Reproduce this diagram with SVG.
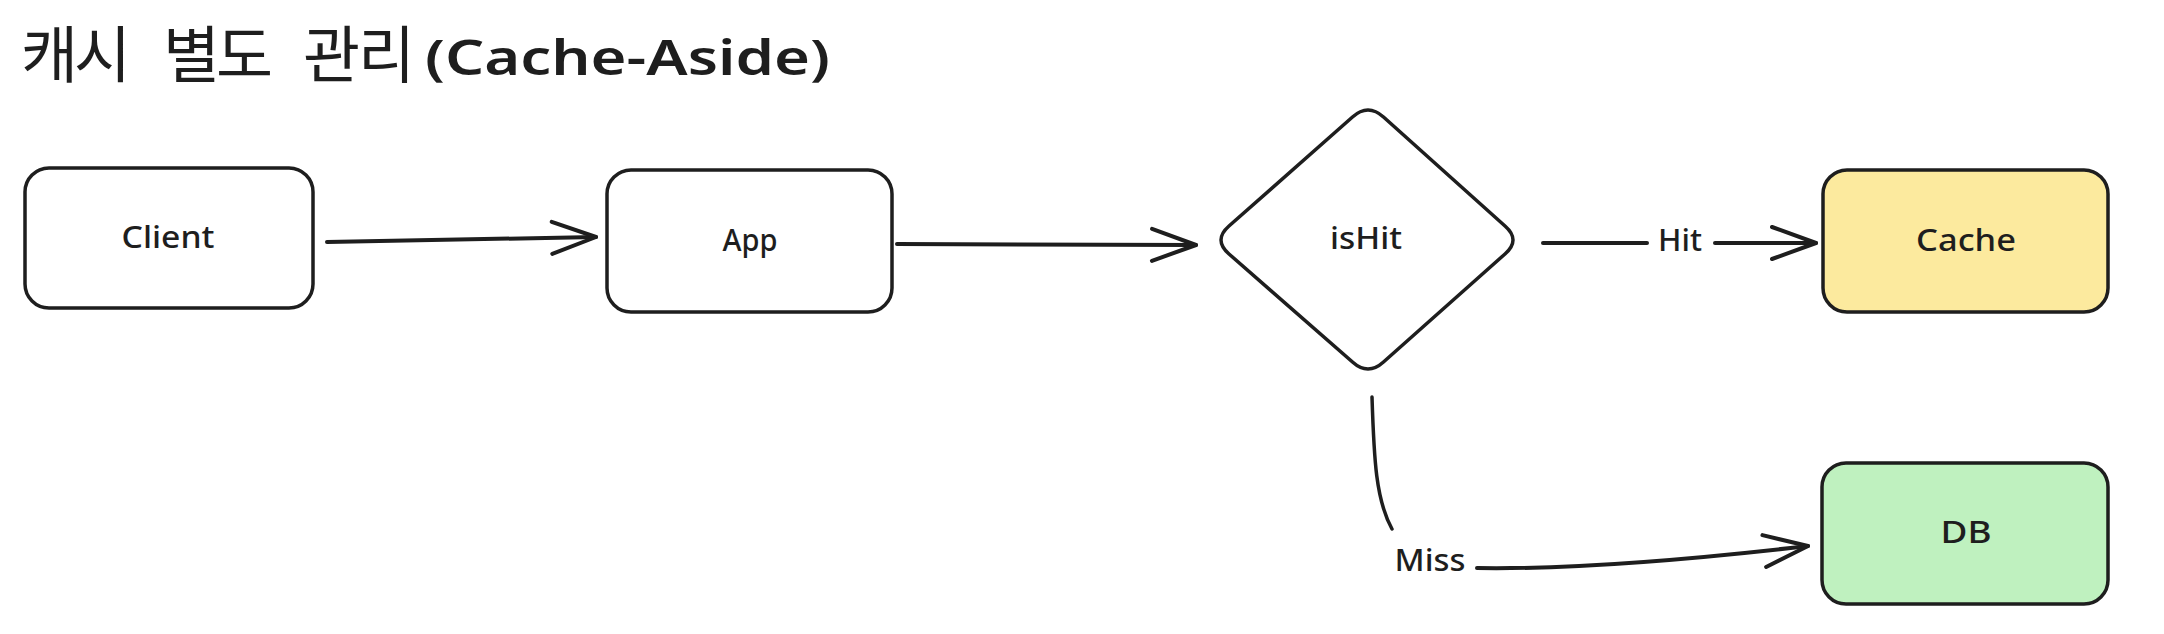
<svg xmlns="http://www.w3.org/2000/svg" width="2164" height="634" viewBox="0 0 2164 634">
<style>
.box{stroke:#1e1e1e;stroke-width:3.5;fill:#ffffff}
.lbl{font-family:"Noto Sans","Liberation Sans",sans-serif;font-size:30px;font-weight:500;fill:#1e1e1e;text-anchor:middle}
.edge{fill:none;stroke:#1e1e1e;stroke-width:4;stroke-linecap:round}
.thin{fill:none;stroke:#1e1e1e;stroke-width:3.5;stroke-linecap:round}
</style>
<defs>
<marker id="arr" markerUnits="userSpaceOnUse" markerWidth="60" markerHeight="50" refX="0" refY="0" viewBox="-50 -25 60 50" orient="auto" overflow="visible">
<path d="M-44,-16 L0,0 L-44,16" fill="none" stroke="#1e1e1e" stroke-width="4" stroke-linecap="round" stroke-linejoin="round"/>
</marker>
</defs>
<rect width="2164" height="634" fill="#ffffff"/>
<g id="title">
<text y="78" fill="#1e1e1e" style="font-family:'Noto Sans CJK KR','Noto Sans',sans-serif;font-size:62px;font-weight:400"><tspan x="21 74 127 163 216 269 303 358">캐시 별도 관리</tspan><tspan x="425" y="75" style="font-family:'Noto Sans','Liberation Sans',sans-serif;font-size:48px;font-weight:600" textLength="405" lengthAdjust="spacingAndGlyphs">(Cache-Aside)</tspan></text>
</g>
<g id="client">
<rect class="box" x="25" y="168" width="288" height="140" rx="24"/>
<text class="lbl" x="168" y="248" textLength="93" lengthAdjust="spacingAndGlyphs">Client</text>
</g>
<g id="app">
<rect class="box" x="607" y="170" width="285" height="142" rx="24"/>
<text class="lbl" x="750" y="251" textLength="55" lengthAdjust="spacingAndGlyphs">App</text>
</g>
<g id="isHit">
<path class="box" d="M1229,226 L1352.5,117 Q1368,103 1383.5,117 L1505,226 Q1521,240 1505,254 L1383.5,362 Q1368,376 1352.5,362 L1229,254 Q1213,240 1229,226 Z"/>
<text class="lbl" x="1366" y="249" textLength="72" lengthAdjust="spacingAndGlyphs">isHit</text>
</g>
<g id="cache">
<rect class="box" x="1823" y="170" width="285" height="142" rx="24" style="fill:#fcea9e"/>
<text class="lbl" x="1966" y="251" textLength="100" lengthAdjust="spacingAndGlyphs">Cache</text>
</g>
<g id="db">
<rect class="box" x="1822" y="463" width="286" height="141" rx="24" style="fill:#bff1bf"/>
<text class="lbl" x="1966" y="543" textLength="51" lengthAdjust="spacingAndGlyphs">DB</text>
</g>
<g id="connectors">
<path class="edge" d="M327,242 L596,237" marker-end="url(#arr)"/>
<path class="edge" d="M897,244 L1196,245" marker-end="url(#arr)"/>
<path class="edge" d="M1543,243 L1647,243"/>
<path class="edge" d="M1715,243 L1816,243" marker-end="url(#arr)"/>
<text class="lbl" x="1680" y="251" textLength="44" lengthAdjust="spacingAndGlyphs">Hit</text>
<path class="thin" d="M1372,397 C1374,460 1376,500 1392,529"/>
<path class="edge" d="M1477,568 Q1600,570 1808,546" marker-end="url(#arr)"/>
<text class="lbl" x="1430" y="571" textLength="71" lengthAdjust="spacingAndGlyphs">Miss</text>
</g>
</svg>
